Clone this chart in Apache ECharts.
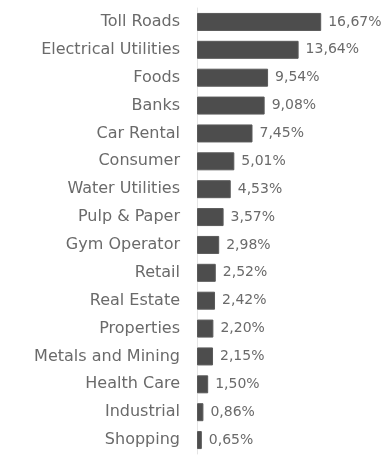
<!DOCTYPE html>
<html><head><meta charset="utf-8">
<script src="https://cdn.jsdelivr.net/npm/echarts@6/dist/echarts.min.js"></script>
<style>html,body{margin:0;padding:0;background:#fff}#c{width:392px;height:461px}</style>
</head><body><div id="c"></div>
<script>
const categories = ["Toll Roads","Electrical Utilities","Foods","Banks","Car Rental","Consumer","Water Utilities","Pulp & Paper","Gym Operator","Retail","Real Estate","Properties","Metals and Mining","Health Care","Industrial","Shopping"];
const values = [16.67,13.64,9.54,9.08,7.45,5.01,4.53,3.57,2.98,2.52,2.42,2.20,2.15,1.50,0.86,0.65];
const chart = echarts.init(document.getElementById('c'));
chart.setOption({
  animation:false,
  grid:{left:197,right:46,top:8,bottom:7,containLabel:false},
  xAxis:{type:'value',min:0,max:20,show:false},
  yAxis:{type:'category',data:categories,inverse:true,
    axisLine:{show:true,lineStyle:{color:'#e4e4e4',width:1}},
    axisTick:{show:false},
    axisLabel:{color:'#6a6a6a',fontSize:16,fontFamily:'DejaVu Sans',margin:17}},
  series:[{type:'bar',data:values,barWidth:18,
    itemStyle:{color:'#4d4d4d',borderColor:'#5a5a5a',borderWidth:1},
    label:{show:true,position:'right',distance:7,color:'#6a6a6a',fontSize:14,fontFamily:'DejaVu Sans',
      formatter:p=>p.value.toFixed(2).replace('.',',')+'%'}}]
});
</script></body></html>
